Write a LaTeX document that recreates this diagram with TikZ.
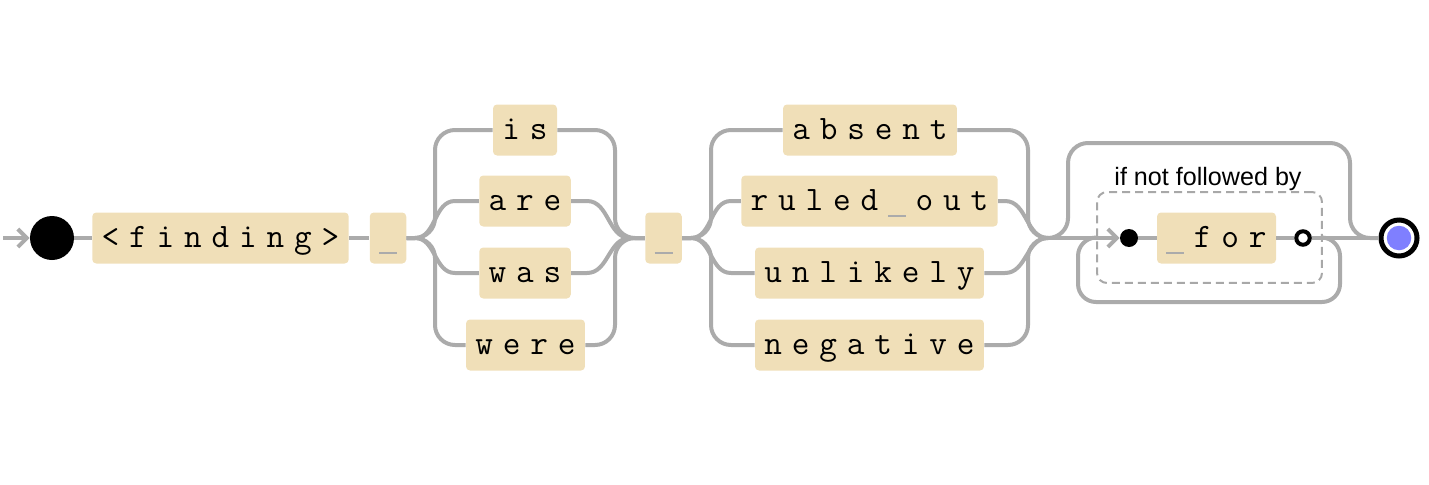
\documentclass[tikz,border=0pt]{standalone}
\usepackage{fontspec}
\newfontfamily\notefont{Liberation Sans}
\usetikzlibrary{arrows.meta}
\definecolor{railgray}{HTML}{ABABAB}
\definecolor{dashgray}{HTML}{A8A8A8}
\definecolor{tokfill}{HTML}{F0DFB8}
\definecolor{endblue}{HTML}{7F7FFF}
\newlength\railpitch \setlength\railpitch{0.55cm}
\def\railtext#1{\railnext#1\relax}
\def\railnext#1{\ifx\relax#1\else\makebox[\railpitch]{#1}\expandafter\railnext\fi}
\newcommand\gapmark{\textcolor{railgray}{\rule[-0.12cm]{0.36cm}{0.04cm}}}
\tikzset{
  rail/.style={railgray,line width=0.08cm},
  railbend/.style={rail,rounded corners=0.4cm},
  tok/.style={fill=tokfill,rounded corners=0.08cm,inner xsep=0.09cm,inner ysep=0pt,
    minimum height=1.02cm,text height=0.5cm,text depth=0.12cm,
    font=\fontsize{19.5}{22}\selectfont\ttfamily},
  railtip/.style={-{Straight Barb[length=0.18cm,width=0.36cm]}}
}
\begin{document}
\begin{tikzpicture}[x=0.02cm,y=-0.02cm]
\useasboundingbox (0,0) rectangle (1429,484);
% tokens
\node[circle,fill=black,inner sep=0pt,minimum size=0.88cm] (start) at (52,238) {};
\node[tok] (finding) at (220.5,238) {\railtext{<finding>}};
\node[tok] (sp1) at (388,238) {\railtext{\gapmark}};
\node[tok] (is) at (525,130) {\railtext{is}};
\node[tok] (are) at (525,201) {\railtext{are}};
\node[tok] (was) at (525,273) {\railtext{was}};
\node[tok] (were) at (525.5,345) {\railtext{were}};
\node[tok] (sp2) at (663.5,238) {\railtext{\gapmark}};
\node[tok] (absent) at (870,130) {\railtext{absent}};
\node[tok] (ruled) at (869.5,201) {\railtext{ruled\gapmark out}};
\node[tok] (unlikely) at (869.5,273) {\railtext{unlikely}};
\node[tok] (negative) at (869.5,345) {\railtext{negative}};
% lookahead group
\node[draw=dashgray,line width=0.04cm,dash pattern=on 0.16cm off 0.1cm,rounded corners=0.2cm,
  minimum width=4.5cm,minimum height=1.82cm] (look) at (1209.5,237.5) {};
\node[font={\notefont\fontsize{14.3}{16}\selectfont}] (lbl) at (1208,179) {if not followed by};
\node[circle,fill=black,inner sep=0pt,minimum size=0.36cm] (dot) at (1129,238) {};
\node[tok] (for) at (1216.5,238) {\railtext{\gapmark for}};
\node[circle,draw=black,fill=white,line width=0.08cm,inner sep=0pt,minimum size=0.27cm] (hollow) at (1303,238) {};
\node[circle,draw=black,line width=0.1cm,inner sep=0pt,minimum size=0.72cm] (endc) at (1399,238) {};
\fill[endblue] (endc.center) circle (0.245cm);
% junctions
\coordinate (entry) at (3,238);
\coordinate (v1) at (435,238);
\coordinate (v2) at (615,238);
\coordinate (v3) at (711,238);
\coordinate (v4) at (1028,238);
\coordinate (j2) at (1048,238);
% main line
\draw[rail,railtip] (entry) -- (start.west);
\draw[rail] (start) -- (finding);
\draw[rail] (finding) -- (sp1);
% first choice
\draw[railbend] (sp1.east) -- (v1) |- (is.west);
\draw[railbend] (sp1.east) -- (v1) |- (were.west);
\draw[rail] (sp1.east) -- (415,238) to[out=0,in=180] (455,201) -- (are.west);
\draw[rail] (sp1.east) -- (415,238) to[out=0,in=180] (455,273) -- (was.west);
\draw[railbend] (is.east) -| (v2) -- (sp2.west);
\draw[railbend] (were.east) -| (v2) -- (sp2.west);
\draw[rail] (are.east) -- (587,201) to[out=0,in=180] (630,238) -- (sp2.west);
\draw[rail] (was.east) -- (587,273) to[out=0,in=180] (630,238) -- (sp2.west);
% second choice
\draw[railbend] (sp2.east) -- (v3) |- (absent.west);
\draw[railbend] (sp2.east) -- (v3) |- (negative.west);
\draw[rail] (sp2.east) -- (691,238) to[out=0,in=180] (731,201) -- (ruled.west);
\draw[rail] (sp2.east) -- (691,238) to[out=0,in=180] (731,273) -- (unlikely.west);
\draw[railbend] (absent.east) -| (v4) -- (j2);
\draw[railbend] (negative.east) -| (v4) -- (j2);
\draw[rail] (ruled.east) -- (1005,201) to[out=0,in=180] (j2);
\draw[rail] (unlikely.east) -- (1005,273) to[out=0,in=180] (j2);
% lookahead
\draw[rail,railtip] (j2) -- (dot.west);
\draw[rail] (dot) -- (for);
\draw[rail] (for) -- (hollow);
\draw[rail] (hollow) -- (endc);
\draw[railbend] (j2) -- (1068,238) |- (1350,143) -- (1350,238) -- (endc.west);
\draw[rail,rounded corners=0.36cm] (look.west) -- (1078,238) |- (1340,302) -- (1340,238) -- (look.east);
\end{tikzpicture}
\end{document}
